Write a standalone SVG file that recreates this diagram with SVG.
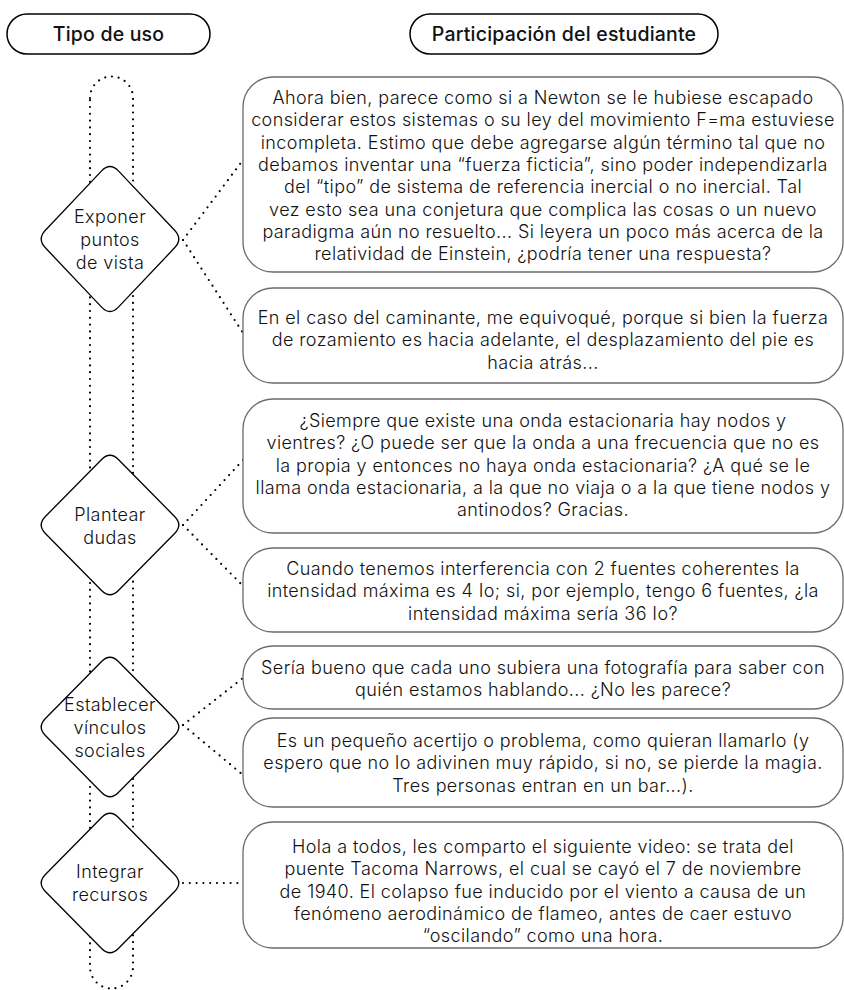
<svg xmlns="http://www.w3.org/2000/svg" width="844" height="990" viewBox="0 0 844 990">
  <style>
    .pill { fill: #fff; stroke: #000; stroke-width: 1.5; }
    .box { fill: #fff; stroke: #6b6b6b; stroke-width: 1.3; }
    .dia { fill: #fff; stroke: #000; stroke-width: 1.3; }
    .dots { fill: none; stroke: #000; stroke-width: 2.2; stroke-linecap: round; stroke-dasharray: 0 6.8; }
    .hd { font-family: Inter, "Open Sans", "Liberation Sans", sans-serif; font-size: 19.5px; font-weight: 500; letter-spacing: 0.2px; fill: #111; text-anchor: middle; }
    .tx { font-family: Inter, "Open Sans", "Liberation Sans", sans-serif; font-size: 18px; font-weight: 300; letter-spacing: 0.4px; fill: #111; text-anchor: middle; }
  </style>
  <defs>
    <path id="diamond" d="M -8.4,-65.5 Q 0,-74 8.4,-65.5 L 64.6,-8.5 Q 73,0 64.6,8.5 L 8.4,65.5 Q 0,74 -8.4,65.5 L -64.6,8.5 Q -73,0 -64.6,-8.5 Z"/>
  </defs>
  <rect width="844" height="990" fill="#fff"/>

  <!-- column headers -->
  <g id="head-tipo">
    <rect class="pill" x="7" y="14" width="203" height="40" rx="20"/>
    <text class="hd" x="108.5" y="41">Tipo de uso</text>
  </g>
  <g id="head-participacion">
    <rect class="pill" x="410" y="14" width="308" height="40" rx="20"/>
    <text class="hd" x="564" y="41">Participación del estudiante</text>
  </g>

  <!-- connectors: dotted track behind the diamonds and dotted links to the boxes -->
  <g id="connectors">
    <path class="dots" d="M 90,98 A 21.5,21.5 0 0 1 133,98 V 967 A 21.5,21.5 0 0 1 90,967 Z"/>
    <line class="dots" x1="183" y1="240" x2="243" y2="160"/>
    <line class="dots" x1="183" y1="240" x2="243" y2="333"/>
    <line class="dots" x1="183" y1="525" x2="243" y2="460"/>
    <line class="dots" x1="183" y1="525" x2="243" y2="586"/>
    <line class="dots" x1="183" y1="725" x2="243" y2="678"/>
    <line class="dots" x1="183" y1="725" x2="243" y2="775"/>
    <line class="dots" x1="183" y1="883" x2="243" y2="883"/>
  </g>

  <!-- usage types -->
  <g id="tipo-exponer">
    <use href="#diamond" class="dia" transform="translate(110,239) scale(1,1.04)"/>
    <text class="tx" x="110" y="223"><tspan x="110">Exponer</tspan><tspan x="110" dy="23">puntos</tspan><tspan x="110" dy="23">de vista</tspan></text>
  </g>
  <g id="tipo-plantear">
    <use href="#diamond" class="dia" transform="translate(110,525)"/>
    <text class="tx" x="110" y="521"><tspan x="110">Plantear</tspan><tspan x="110" dy="23">dudas</tspan></text>
  </g>
  <g id="tipo-establecer">
    <use href="#diamond" class="dia" transform="translate(110,727)"/>
    <text class="tx" x="110" y="711"><tspan x="110">Establecer</tspan><tspan x="110" dy="23">vínculos</tspan><tspan x="110" dy="23">sociales</tspan></text>
  </g>
  <g id="tipo-integrar">
    <use href="#diamond" class="dia" transform="translate(110,883)"/>
    <text class="tx" x="110" y="878"><tspan x="110">Integrar</tspan><tspan x="110" dy="23">recursos</tspan></text>
  </g>

  <!-- student posts -->
  <g id="post-newton">
    <rect class="box" x="243" y="77" width="600" height="195" rx="30"/>
    <text class="tx" x="543" y="104"><tspan x="543">Ahora bien, parece como si a Newton se le hubiese escapado</tspan><tspan x="543" dy="22.3">considerar estos sistemas o su ley del movimiento F=ma estuviese</tspan><tspan x="543" dy="22.3">incompleta. Estimo que debe agregarse algún término tal que no</tspan><tspan x="543" dy="22.3">debamos inventar una “fuerza ficticia”, sino poder independizarla</tspan><tspan x="543" dy="22.3">del “tipo” de sistema de referencia inercial o no inercial. Tal</tspan><tspan x="543" dy="22.3">vez esto sea una conjetura que complica las cosas o un nuevo</tspan><tspan x="543" dy="22.3">paradigma aún no resuelto... Si leyera un poco más acerca de la</tspan><tspan x="543" dy="22.3">relatividad de Einstein, ¿podría tener una respuesta?</tspan></text>
  </g>
  <g id="post-caminante">
    <rect class="box" x="243" y="288" width="600" height="95" rx="30"/>
    <text class="tx" x="543" y="324"><tspan x="543">En el caso del caminante, me equivoqué, porque si bien la fuerza</tspan><tspan x="543" dy="22.3">de rozamiento es hacia adelante, el desplazamiento del pie es</tspan><tspan x="543" dy="22.3">hacia atrás...</tspan></text>
  </g>
  <g id="post-onda">
    <rect class="box" x="243" y="399" width="600" height="134" rx="30"/>
    <text class="tx" x="543" y="427"><tspan x="543">¿Siempre que existe una onda estacionaria hay nodos y</tspan><tspan x="543" dy="22.3">vientres? ¿O puede ser que la onda a una frecuencia que no es</tspan><tspan x="543" dy="22.3">la propia y entonces no haya onda estacionaria? ¿A qué se le</tspan><tspan x="543" dy="22.3">llama onda estacionaria, a la que no viaja o a la que tiene nodos y</tspan><tspan x="543" dy="22.3">antinodos? Gracias.</tspan></text>
  </g>
  <g id="post-interferencia">
    <rect class="box" x="243" y="548" width="600" height="84" rx="30"/>
    <text class="tx" x="543" y="575"><tspan x="543">Cuando tenemos interferencia con 2 fuentes coherentes la</tspan><tspan x="543" dy="22.3">intensidad máxima es 4 Io; si, por ejemplo, tengo 6 fuentes, ¿la</tspan><tspan x="543" dy="22.3">intensidad máxima sería 36 Io?</tspan></text>
  </g>
  <g id="post-fotografia">
    <rect class="box" x="243" y="646" width="600" height="63" rx="30"/>
    <text class="tx" x="543" y="674"><tspan x="543">Sería bueno que cada uno subiera una fotografía para saber con</tspan><tspan x="543" dy="22.3">quién estamos hablando... ¿No les parece?</tspan></text>
  </g>
  <g id="post-acertijo">
    <rect class="box" x="243" y="718" width="600" height="89" rx="30"/>
    <text class="tx" x="543" y="747"><tspan x="543">Es un pequeño acertijo o problema, como quieran llamarlo (y</tspan><tspan x="543" dy="22.3">espero que no lo adivinen muy rápido, si no, se pierde la magia.</tspan><tspan x="543" dy="22.3">Tres personas entran en un bar...).</tspan></text>
  </g>
  <g id="post-tacoma">
    <rect class="box" x="243" y="822" width="600" height="126" rx="30"/>
    <text class="tx" x="543" y="853"><tspan x="543">Hola a todos, les comparto el siguiente video: se trata del</tspan><tspan x="543" dy="22.3">puente Tacoma Narrows, el cual se cayó el 7 de noviembre</tspan><tspan x="543" dy="22.3">de 1940. El colapso fue inducido por el viento a causa de un</tspan><tspan x="543" dy="22.3">fenómeno aerodinámico de flameo, antes de caer estuvo</tspan><tspan x="543" dy="22.3">“oscilando” como una hora.</tspan></text>
  </g>
</svg>
